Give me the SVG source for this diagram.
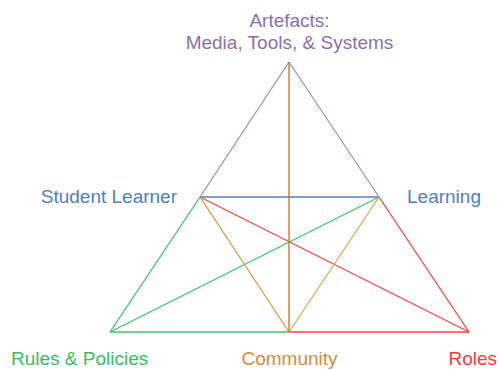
<svg xmlns="http://www.w3.org/2000/svg" width="499" height="370" viewBox="0 0 499 370">
  <style>
    text { font-family: "Liberation Sans", Arial, sans-serif; font-size: 19px; }
    .edge { fill: none; stroke-width: 1.3; }
    .purple { stroke: #9d8fc2; }
    .blue { stroke: #5583bd; }
    .green { stroke: #3cc46a; }
    .red { stroke: #ff4040; }
    .brown { stroke: #c0702c; }
    .orange { stroke: #d9954c; }
    .tan { stroke: #d4ac50; }
  </style>
  <rect width="499" height="370" fill="#ffffff"/>
  <g id="connectors">
    <line class="edge purple" x1="289" y1="62" x2="200" y2="197"/>
    <line class="edge purple" x1="289" y1="62" x2="379" y2="197"/>
    <line class="edge blue" x1="200" y1="197" x2="379" y2="197"/>
    <line class="edge green" x1="200" y1="197" x2="110" y2="332"/>
    <line class="edge green" x1="110" y1="332" x2="379" y2="197"/>
    <line class="edge green" x1="110" y1="332" x2="289" y2="332"/>
    <line class="edge red" x1="379" y1="197" x2="469" y2="332"/>
    <line class="edge red" x1="200" y1="197" x2="469" y2="332"/>
    <line class="edge red" x1="289" y1="332" x2="469" y2="332"/>
    <line class="edge orange" x1="200" y1="197" x2="289" y2="332"/>
    <line class="edge tan" x1="379" y1="197" x2="289" y2="332"/>
    <line class="edge brown" x1="289" y1="62" x2="289" y2="332"/>
  </g>
  <g id="artefacts">
    <text x="289.5" y="27" text-anchor="middle" fill="#8a70ad">Artefacts:</text>
    <text x="289.5" y="49" text-anchor="middle" fill="#8a70ad">Media, Tools, &amp; Systems</text>
  </g>
  <g id="student-learner">
    <text x="177" y="203" text-anchor="end" fill="#4f7fbd">Student Learner</text>
  </g>
  <g id="learning">
    <text x="407" y="203" fill="#4f7fbd">Learning</text>
  </g>
  <g id="rules-policies">
    <text x="11" y="365" fill="#35bf64">Rules &amp; Policies</text>
  </g>
  <g id="community">
    <text x="289.5" y="365" text-anchor="middle" fill="#d98a3c">Community</text>
  </g>
  <g id="roles">
    <text x="497" y="365" text-anchor="end" fill="#ff3a3a">Roles</text>
  </g>
</svg>
